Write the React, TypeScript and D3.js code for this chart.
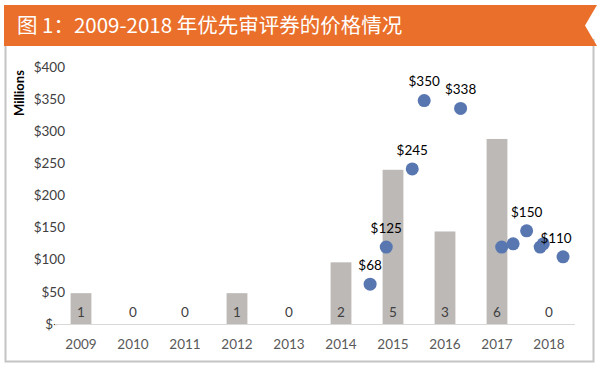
import React from 'react';
import { scaleBand, scaleLinear } from 'd3';

// bars: number of vouchers per year
const years = ['2009', '2010', '2011', '2012', '2013', '2014', '2015', '2016', '2017', '2018'];
const voucherCounts = [1, 0, 0, 1, 0, 2, 5, 3, 6, 0];

// dots: individual sales (decimal year, price in $M)
const saleDates = [2014.56, 2014.87, 2015.37, 2015.6, 2016.3, 2017.09, 2017.31, 2017.57, 2017.83, 2017.89, 2018.27];
const salePrices = [68, 125, 245, 350, 338, 125, 130, 150, 125, 130, 110];
const saleLabels = ['$68', '$125', '$245', '$350', '$338', '', '', '$150', '', '', '$110'];

const yTicks = [0, 50, 100, 150, 200, 250, 300, 350, 400];

const title = '图 1：2009-2018 年优先审评券的价格情况';

const W = 600;
const H = 368;
const font = 'Lato, "Open Sans", sans-serif';

const App = () => {
    const x = scaleBand<string>().domain(years).range([55, 575]);
    const bw = x.bandwidth();

    // primary axis ($M)
    const y = scaleLinear().domain([0, 400]).range([324, 67]);
    // bars sit on a secondary count axis
    const yCount = scaleLinear().domain([0, 400 / 48]).range([324, 67]);
    // scatter uses its own axes
    const xDate = scaleLinear().domain([2009, 2018]).range([81, 549]);
    const yDot = scaleLinear().domain([0, 400]).range([328.5, 68]);

    return (
        <svg width={W} height={H} style={{ position: 'absolute', left: 0, top: 0, display: 'block' }}>
            <rect x={0} y={0} width={W} height={H} fill="#fff" />

            {/* panel */}
            <rect x={5.5} y={40} width={588} height={321.5} fill="none" stroke="#c4c4c4" strokeWidth={2} />

            {/* banner */}
            <path d="M4,5 L597,5 L585,25.5 L597,46 L4,46 Z" fill="#e96f2b" />
            <text x={17} y={33} fill="#fff" fontSize={20.5} fontFamily='"Noto Sans CJK SC", sans-serif'>
                {title}
            </text>

            {/* y axis */}
            <text
                transform="translate(24,93) rotate(-90)"
                textAnchor="middle"
                fontSize={13}
                fontWeight="bold"
                fontFamily={font}
                fill="#000"
            >
                Millions
            </text>
            {yTicks.map((t) => (
                <text
                    key={t}
                    x={t === 0 ? 58 : 65}
                    y={y(t)}
                    dy="0.35em"
                    textAnchor="end"
                    fontSize={13.5}
                    fontFamily={font}
                    fill="#404040"
                >
                    {t === 0 ? '$-' : `$${t}`}
                </text>
            ))}

            {/* bars */}
            {years.map((yr, i) => (
                <g key={yr}>
                    {voucherCounts[i] > 0 && (
                        <rect
                            x={x(yr) + bw * 0.3}
                            y={yCount(voucherCounts[i])}
                            width={bw * 0.4}
                            height={yCount(0) - yCount(voucherCounts[i])}
                            fill="#bdb9b7"
                        />
                    )}
                    <text
                        x={x(yr) + bw / 2}
                        y={312}
                        dy="0.35em"
                        textAnchor="middle"
                        fontSize={13.5}
                        fontFamily={font}
                        fill="#404040"
                    >
                        {voucherCounts[i]}
                    </text>
                    <text
                        x={x(yr) + bw / 2}
                        y={344}
                        dy="0.35em"
                        textAnchor="middle"
                        fontSize={13.5}
                        fontFamily={font}
                        fill="#595959"
                    >
                        {yr}
                    </text>
                </g>
            ))}

            {/* x axis line */}
            <line x1={55} x2={575} y1={324.5} y2={324.5} stroke="#d9d9d9" strokeWidth={1} />

            {/* sales */}
            {saleDates.map((d, i) => (
                <circle key={i} cx={xDate(d)} cy={yDot(salePrices[i])} r={6.5} fill="#5877b1" />
            ))}
            {saleDates.map((d, i) =>
                saleLabels[i] ? (
                    <text
                        key={`l${i}`}
                        x={xDate(d) + (i === 10 ? -7 : 0)}
                        y={yDot(salePrices[i]) - 19}
                        dy="0.35em"
                        textAnchor="middle"
                        fontSize={13.5}
                        fontFamily={font}
                        fill="#000"
                    >
                        {saleLabels[i]}
                    </text>
                ) : null
            )}
        </svg>
    );
};

export default App;
